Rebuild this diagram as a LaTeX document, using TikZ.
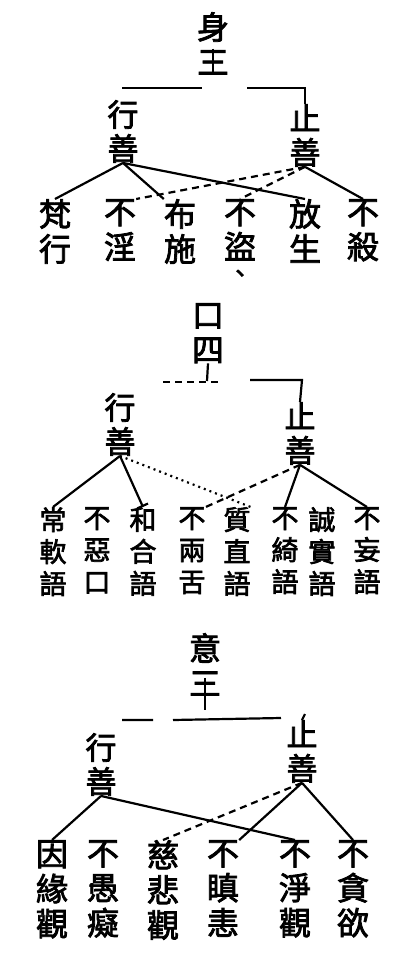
\documentclass[tikz,border=0pt]{standalone}
\usepackage{fontspec}
\newfontfamily\cjk[AutoFakeBold=2.5]{Noto Sans CJK TC}
\usetikzlibrary{calc,arrows.meta}

\begin{document}
\begin{tikzpicture}[x=1pt,y=-1pt,>=stealth,
    head/.style={font={\cjk\bfseries\fontsize{32}{35}\selectfont},align=center,inner sep=0pt,anchor=north},
    branch/.style={font={\cjk\bfseries\fontsize{31}{34}\selectfont},align=center,inner sep=0pt,anchor=north},
    leaf/.style={font={\cjk\bfseries\fontsize{32}{35}\selectfont},align=center,inner sep=0pt,anchor=north},
    leafsmall/.style={font={\cjk\bfseries\fontsize{27}{32}\selectfont},align=center,inner sep=0pt,anchor=north},
    link/.style={line width=2.2pt},
    dlink/.style={link,dash pattern=on 7pt off 5pt},
    plink/.style={link,dash pattern=on 2pt off 4pt}
  ]
    \useasboundingbox (0,0) rectangle (400,972);

    % shen san
    \node[head]   (shen)      at (213,12)  {身\\三};
    \node[branch] (shen-xing) at (123,100) {行\\善};
    \node[branch] (shen-zhi)  at (305,104) {止\\善};
    \foreach \x/\w [count=\i] in {55/梵\\行,120/不\\淫,180/布\\施,240/不\\盜,305/放\\生,363/不\\殺}
      {\node[leaf] (shen-\i) at (\x,199) {\w};}
    \node[font={\cjk\bfseries\fontsize{24}{24}\selectfont},inner sep=0pt] (shen-dun) at (240,276) {、};

    \coordinate (shen-a) at (122,88);
    \coordinate (shen-b) at (202,88);
    \coordinate (shen-c) at (247,88);
    \coordinate (shen-d) at (305,88);

    \draw[link] ($(shen.south)+(0,-26)$) -- (shen.south);
    \draw[link] (shen-a) -- (shen-b) (shen-c) -- (shen-d) -- (shen-zhi.north);

    \path (shen-xing.south) edge[link]  (shen-1.north)
          (shen-xing.south) edge[link]  (shen-3.north west)
          (shen-xing.south) edge[link]  (shen-5.north)
          (shen-zhi.south)  edge[dlink] (shen-2.north east)
          (shen-zhi.south)  edge[dlink] (shen-4.north)
          (shen-zhi.south)  edge[link]  (shen-6.north);

    % kou si
    \node[head]   (kou)      at (208,303) {口\\四};
    \node[branch] (kou-xing) at (120,393) {行\\善};
    \node[branch] (kou-zhi)  at (300,402) {止\\善};
    \foreach \x/\w [count=\i] in {53/常\\軟\\語,97/不\\惡\\口,143/和\\合\\語,192/不\\兩\\舌,
                                  237/質\\直\\語,285/不\\綺\\語,322/誠\\實\\語,367/不\\妄\\語}
      {\node[leafsmall] (kou-\i) at (\x,507) {\w};}

    \coordinate (kou-v) at (207,381);
    \coordinate (kou-a) at (163,382);
    \coordinate (kou-b) at (218,382);
    \coordinate (kou-c) at (250,380);
    \coordinate (kou-d) at (302,380);

    \draw[link] (kou.south) -- (kou-v);
    \draw[dlink] (kou-a) -- (kou-b);
    \draw[link] (kou-c) -- (kou-d) -- (kou-zhi.north);

    \path (kou-xing.south) edge[link]                    (kou-1.north)
          (kou-xing.south) edge[link,-{Bar[width=12pt]}] (kou-3.north)
          (kou-xing.south) edge[plink]                   (kou-5.north east)
          (kou-zhi.south)  edge[dlink]                   (kou-4.north east)
          (kou-zhi.south)  edge[link]                    (kou-6.north)
          (kou-zhi.south)  edge[link]                    (kou-8.north);

    % yi san
    \node[head]   (yi)      at (205,633) {意\\三};
    \node[branch] (yi-xing) at (101,733) {行\\善};
    \node[branch] (yi-zhi)  at (302,720) {止\\善};
    \foreach \x/\w [count=\i] in {52/因\\緣\\觀,103/不\\愚\\癡,163/慈\\悲\\觀,223/不\\瞋\\恚,295/不\\淨\\觀,353/不\\貪\\欲}
      {\node[leaf] (yi-\i) at (\x,840) {\w};}

    \coordinate (yi-v) at (205,710);
    \coordinate (yi-a) at (122,720);
    \coordinate (yi-b) at (153,720);
    \coordinate (yi-c) at (173,720);
    \coordinate (yi-d) at (281,718);
    \coordinate (yi-e) at (305,714);

    \draw[link] ($(yi.south)+(0,-18)$) -- (yi-v);
    \draw[link] (yi-a) -- (yi-b) (yi-c) -- (yi-d);
    \draw[link] (yi-e) -- (yi-zhi.north);

    \path (yi-xing.south) edge[link]  (yi-1.north)
          (yi-xing.south) edge[link]  (yi-5.north)
          (yi-zhi.south)  edge[dlink] (yi-3.north)
          (yi-zhi.south)  edge[link]  (yi-4.north east)
          (yi-zhi.south)  edge[link]  (yi-6.north);
  \end{tikzpicture}
\end{document}
